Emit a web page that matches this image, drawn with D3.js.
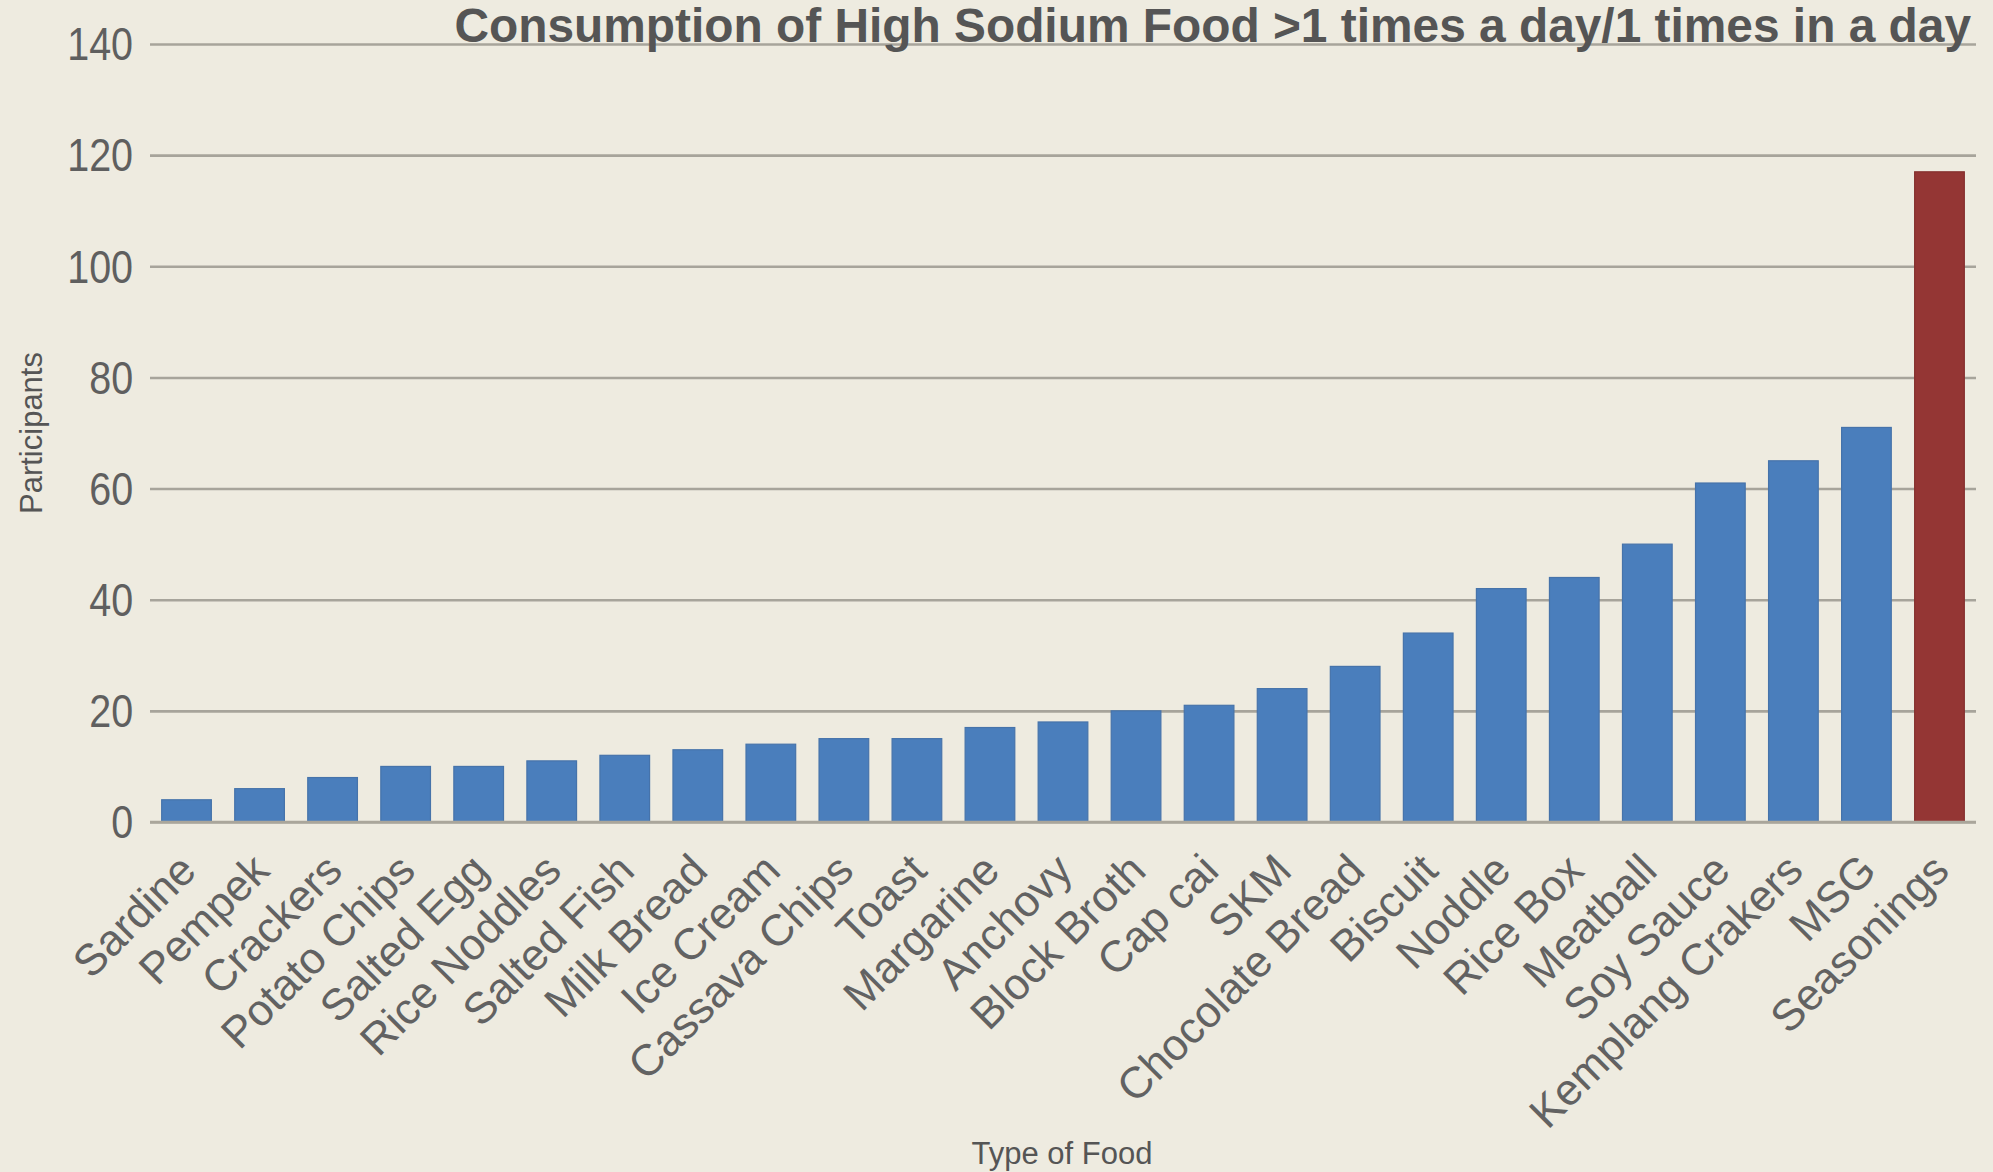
<!DOCTYPE html>
<html>
<head>
<meta charset="utf-8">
<script src="https://cdn.jsdelivr.net/npm/d3@7"></script>
<style>
  html, body { margin: 0; padding: 0; background: #eeebe0; }
  svg { display: block; }
  text { font-family: "Liberation Sans", Arial, sans-serif; }
</style>
</head>
<body>
<svg id="chart" width="1993" height="1172"></svg>
<script>
// Foods, ordered from least to most frequently consumed
const foods = [
  "Sardine", "Pempek", "Crackers", "Potato Chips", "Salted Egg", "Rice Noddles",
  "Salted Fish", "Milk Bread", "Ice Cream", "Cassava Chips", "Toast", "Margarine",
  "Anchovy", "Block Broth", "Cap cai", "SKM", "Chocolate Bread", "Biscuit",
  "Noddle", "Rice Box", "Meatball", "Soy Sauce", "Kemplang Crakers", "MSG", "Seasonings"
];
// Number of participants eating each food more than once a day
const participants = [
  4, 6, 8, 10, 10, 11,
  12, 13, 14, 15, 15, 17,
  18, 20, 21, 24, 28, 34,
  42, 44, 50, 61, 65, 71, 117
];
const yTicks = [0, 20, 40, 60, 80, 100, 120, 140];
const highlighted = ["Seasonings"];

const titleText = "Consumption of High Sodium Food >1 times a day/1 times in a day";
const yTitle = "Participants";
const xTitle = "Type of Food";

const svg = d3.select("#chart");
const plot = { left: 150, right: 1976, top: 44, bottom: 822 };

const x = d3.scaleBand()
  .domain(foods)
  .range([plot.left, plot.right])
  .paddingInner(0.32)
  .paddingOuter(0.16);

const y = d3.scaleLinear()
  .domain([0, 140])
  .range([plot.bottom, plot.top]);

// Horizontal gridlines with their value labels
const yAxis = d3.axisLeft(y)
  .tickValues(yTicks)
  .tickSize(-(plot.right - plot.left))
  .tickPadding(18)
  .tickFormat(d3.format("d"));

const gy = svg.append("g")
  .attr("transform", `translate(${plot.left},0)`)
  .call(yAxis);
gy.select(".domain").remove();
gy.selectAll(".tick line")
  .attr("stroke", "#a7a49b")
  .attr("stroke-width", 2.6);
gy.selectAll(".tick text")
  .attr("fill", "#5f5f5f")
  .attr("font-size", 42)
  .attr("transform", "scale(0.94,1.1)")
  .attr("dy", "0.34em");

// Bars
svg.append("g")
  .selectAll("rect")
  .data(foods)
  .join("rect")
  .attr("x", d => x(d))
  .attr("width", x.bandwidth())
  .attr("y", (d, i) => y(participants[i]))
  .attr("height", (d, i) => y(0) - y(participants[i]))
  .attr("fill", d => highlighted.includes(d) ? "#943634" : "#4a7ebc")
  .attr("stroke", d => highlighted.includes(d) ? "#85302e" : "#4673aa")
  .attr("stroke-width", 1.2);

// Baseline
svg.append("line")
  .attr("x1", plot.left).attr("x2", plot.right)
  .attr("y1", y(0)).attr("y2", y(0))
  .attr("stroke", "#aaa69b")
  .attr("stroke-width", 2.6);

// Rotated category labels
svg.append("g")
  .selectAll("text")
  .data(foods)
  .join("text")
  .attr("transform", d => `translate(${x(d) + x.bandwidth() / 2 + 1},${plot.bottom + 40}) rotate(-45)`)
  .attr("text-anchor", "end")
  .attr("dy", "0.35em")
  .attr("font-size", 44)
  .attr("fill", "#626262")
  .text(d => d);

// Axis titles
svg.append("text")
  .attr("transform", `translate(42,433) rotate(-90)`)
  .attr("text-anchor", "middle")
  .attr("font-size", 31)
  .attr("fill", "#555")
  .text(yTitle);

svg.append("text")
  .attr("x", 1062)
  .attr("y", 1164)
  .attr("text-anchor", "middle")
  .attr("font-size", 31)
  .attr("fill", "#555")
  .text(xTitle);

// Chart title, right aligned above the top gridline
const title = svg.append("text")
  .attr("x", 1971)
  .attr("y", 42)
  .attr("text-anchor", "end")
  .attr("font-size", 40)
  .attr("font-weight", "bold")
  .attr("fill", "#555")
  .text(titleText);
const w = title.node().getComputedTextLength();
title.attr("font-size", 40 * 1517 / w);
</script>
</body>
</html>
